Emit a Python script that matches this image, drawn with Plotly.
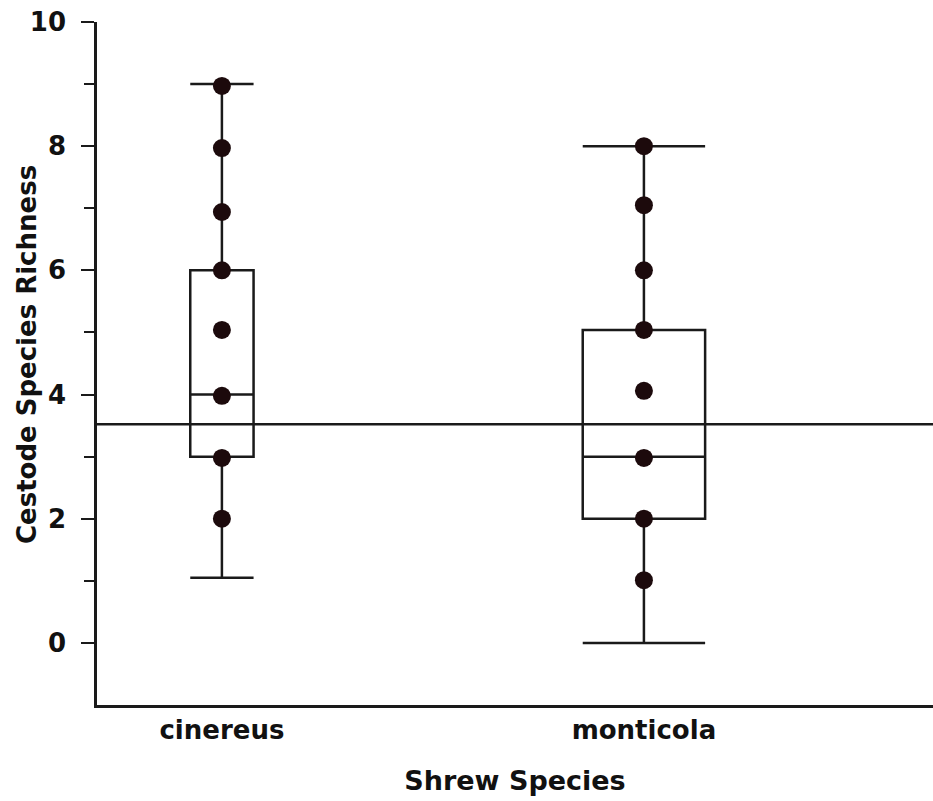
import plotly.graph_objects as go

# ---- data ----
categories = ["cinereus", "monticola"]
cat_pos = [1, 2]
q1 = [3.0, 2.0]
median = [4.0, 3.0]
q3 = [6.0, 5.04]
lower = [1.05, 0.0]
upper = [9.0, 8.0]
points_cinereus = [2.0, 2.98, 3.98, 5.04, 6.0, 6.94, 7.97, 8.97]
points_monticola = [1.01, 2.0, 2.98, 4.06, 5.04, 6.0, 7.05, 8.0]
ref_line = 3.52
y_ticks = [0, 2, 4, 6, 8, 10]
y_minor = [1, 3, 5, 7, 9]
x_title = "Shrew Species"
y_title = "Cestode Species Richness"

box_widths = [0.15, 0.29]
FONT = "DejaVu Sans"
INK = "#1a1a1a"
DOT = "#1c0a0c"
TXT = "#111111"

fig = go.Figure()
for i, name in enumerate(categories):
    fig.add_trace(go.Box(
        x=[cat_pos[i]], q1=[q1[i]], median=[median[i]], q3=[q3[i]],
        lowerfence=[lower[i]], upperfence=[upper[i]],
        width=box_widths[i], whiskerwidth=1, boxpoints=False,
        fillcolor="rgba(255,255,255,0)", line=dict(color=INK, width=2.5),
        name=name, showlegend=False, hoverinfo="skip",
    ))

for i, pts in enumerate([points_cinereus, points_monticola]):
    fig.add_trace(go.Scatter(
        x=[cat_pos[i]] * len(pts), y=pts, mode="markers",
        marker=dict(size=18, color=DOT), showlegend=False,
    ))

fig.add_shape(type="line", xref="paper", x0=0, x1=1, yref="y",
              y0=ref_line, y1=ref_line, line=dict(color=INK, width=2.5), layer="below")

fig.add_annotation(
    text=y_title, textangle=-90, xref="paper", yref="paper",
    x=-0.0837, y=0.5124, xanchor="center", yanchor="middle", showarrow=False,
    font=dict(family=FONT, size=26, weight="bold", color=TXT),
)

fig.update_layout(
    width=933, height=801,
    margin=dict(l=97, r=0, t=22, b=96),
    plot_bgcolor="white", paper_bgcolor="white",
    font=dict(family=FONT, color=TXT, weight="bold"),
    xaxis=dict(
        range=[0.704, 2.685], tickvals=cat_pos, ticktext=categories,
        showline=True, linecolor=INK, linewidth=2.5, ticks="",
        showgrid=False, zeroline=False,
        tickfont=dict(family=FONT, size=26, weight="bold", color=TXT),
        title=dict(text=x_title, standoff=28,
                   font=dict(family=FONT, size=27, weight="bold", color=TXT)),
    ),
    yaxis=dict(
        range=[-1, 10], tickvals=y_ticks,
        showline=True, linecolor=INK, linewidth=2.5,
        ticks="outside", ticklen=13, tickwidth=2, tickcolor=INK,
        ticklabelstandoff=10,
        minor=dict(tickvals=y_minor, ticks="outside", ticklen=10, tickwidth=2, tickcolor=INK),
        showgrid=False, zeroline=False,
        tickfont=dict(family=FONT, size=26, weight="bold", color=TXT),
    ),
)

fig.write_html("out.html")
